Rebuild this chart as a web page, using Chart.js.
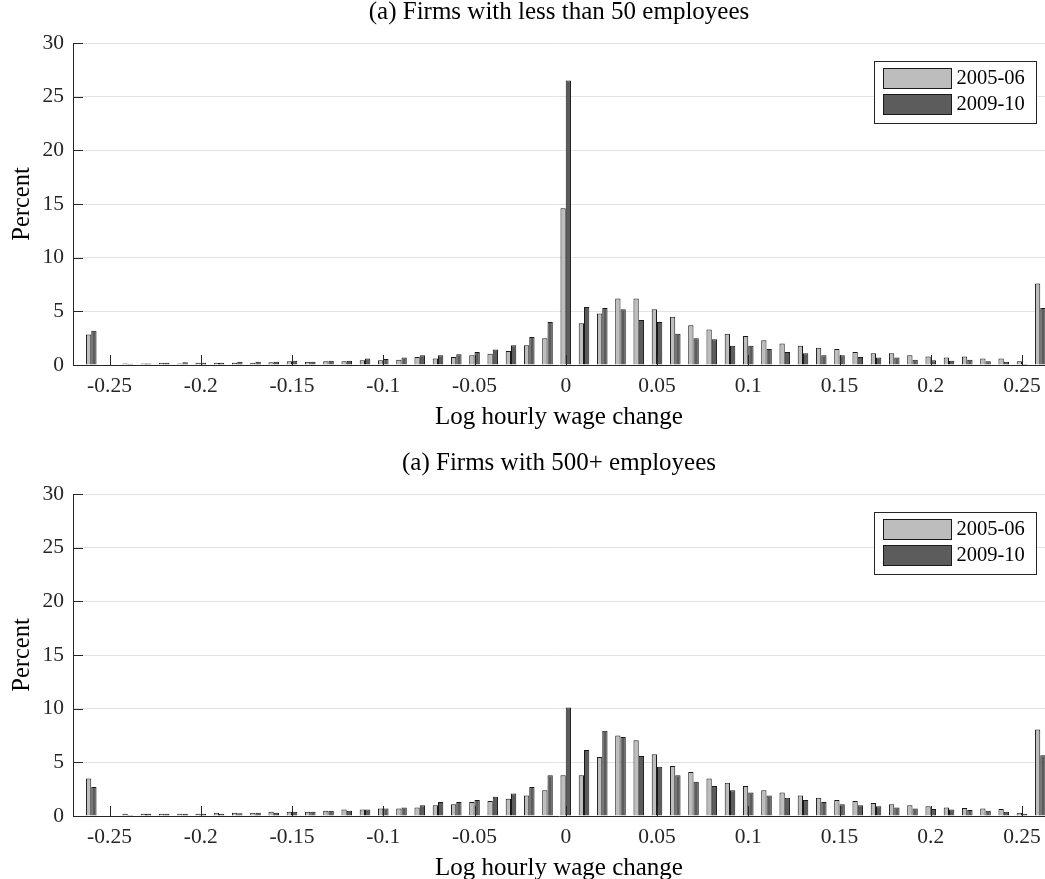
<!DOCTYPE html>
<html>
<head>
<meta charset="utf-8">
<script src="https://cdn.jsdelivr.net/npm/chart.js@4.4.1/dist/chart.umd.min.js"></script>
<style>
  html, body { margin: 0; padding: 0; background: #fff; overflow: hidden; }
  #wrap { position: relative; width: 1045px; height: 879px; }
  canvas { position: absolute; left: 0; }
  #c1 { top: 0; }
  #c2 { top: 451px; }
</style>
</head>
<body>
<div id="wrap">
  <canvas id="c1" width="1045" height="440"></canvas>
  <canvas id="c2" width="1045" height="440"></canvas>
</div>
<script>
// ---- data ----
const bins = [-0.26,-0.25,-0.24,-0.23,-0.22,-0.21,-0.2,-0.19,-0.18,-0.17,-0.16,-0.15,-0.14,-0.13,-0.12,-0.11,-0.1,-0.09,-0.08,-0.07,-0.06,-0.05,-0.04,-0.03,-0.02,-0.01,0,0.01,0.02,0.03,0.04,0.05,0.06,0.07,0.08,0.09,0.1,0.11,0.12,0.13,0.14,0.15,0.16,0.17,0.18,0.19,0.2,0.21,0.22,0.23,0.24,0.25,0.26];

const seriesLabels = ['2005-06', '2009-10'];

const small0506 = [2.85,0.05,0.15,0.15,0.2,0.15,0.2,0.2,0.2,0.2,0.25,0.35,0.3,0.35,0.35,0.45,0.45,0.5,0.75,0.6,0.75,0.9,1.05,1.3,1.85,2.5,14.6,3.9,4.8,6.2,6.2,5.2,4.5,3.7,3.3,2.9,2.7,2.3,2.0,1.8,1.6,1.5,1.2,1.1,1.1,0.9,0.8,0.7,0.8,0.6,0.6,0.35,7.6];
const small0910 = [3.2,0.05,0.12,0.15,0.2,0.25,0.2,0.2,0.3,0.3,0.3,0.4,0.3,0.4,0.4,0.6,0.55,0.7,0.9,0.9,1.0,1.2,1.45,1.85,2.6,4.0,26.5,5.4,5.3,5.2,4.2,4.0,2.9,2.5,2.4,1.8,1.8,1.5,1.2,1.1,0.9,0.9,0.75,0.7,0.7,0.5,0.45,0.4,0.5,0.35,0.3,0.1,5.3];

const large0506 = [3.5,0.05,0.2,0.2,0.2,0.2,0.2,0.3,0.3,0.3,0.4,0.4,0.4,0.5,0.6,0.6,0.7,0.7,0.8,1.0,1.1,1.3,1.4,1.6,1.9,2.4,3.8,3.8,5.5,7.5,7.05,5.75,4.65,4.1,3.5,3.1,2.8,2.4,2.2,1.9,1.7,1.5,1.4,1.2,1.1,1.0,0.9,0.8,0.75,0.7,0.65,0.3,8.05];
const large0910 = [2.7,0.05,0.1,0.2,0.2,0.2,0.2,0.2,0.25,0.3,0.3,0.4,0.4,0.5,0.5,0.6,0.7,0.8,1.0,1.3,1.3,1.5,1.8,2.1,2.7,3.8,10.1,6.15,7.95,7.35,5.6,4.6,3.8,3.2,2.8,2.4,2.2,1.9,1.7,1.5,1.3,1.1,1.0,0.9,0.8,0.7,0.65,0.6,0.55,0.5,0.4,0.2,5.65];

const xTickValues = [-0.25,-0.2,-0.15,-0.1,-0.05,0,0.05,0.1,0.15,0.2,0.25];
const xTickLabels = ['-0.25','-0.2','-0.15','-0.1','-0.05','0','0.05','0.1','0.15','0.2','0.25'];

const titles = ['(a) Firms with less than 50 employees', '(a) Firms with 500+ employees'];
const xTitle = 'Log hourly wage change';
const yTitle = 'Percent';

// ---- style ----
const SERIF = '"Liberation Serif", "Times New Roman", Times, serif';
const AX = '#262626';
const fills = ['#bdbdbd', '#5c5c5c'];

const inwardTicks = {
  id: 'inwardTicks',
  afterDatasetsDraw(chart) {
    const {ctx, chartArea, scales} = chart;
    ctx.save();
    ctx.strokeStyle = AX;
    ctx.lineWidth = 1;
    ctx.beginPath();
    scales.y.ticks.forEach(t => {
      const py = Math.round(scales.y.getPixelForValue(t.value)) + 0.5;
      ctx.moveTo(chartArea.left, py);
      ctx.lineTo(chartArea.left + 10, py);
    });
    scales.x.ticks.forEach(t => {
      const px = Math.round(scales.x.getPixelForValue(t.value)) + 0.5;
      ctx.moveTo(px, chartArea.bottom);
      ctx.lineTo(px, chartArea.bottom - 10);
    });
    ctx.stroke();
    ctx.restore();
  }
};

const boxLegend = {
  id: 'boxLegend',
  afterDraw(chart) {
    const {ctx, chartArea} = chart;
    const w = 162, h = 62;
    const left = Math.round(chartArea.right - 9 - w) + 0.5;
    const top = Math.round(chartArea.top + 18) + 0.5;
    ctx.save();
    ctx.fillStyle = '#fff';
    ctx.fillRect(left, top, w, h);
    ctx.strokeStyle = AX;
    ctx.lineWidth = 1;
    ctx.strokeRect(left, top, w, h);
    ctx.font = '20.5px ' + SERIF;
    ctx.textBaseline = 'middle';
    ctx.textAlign = 'left';
    chart.data.datasets.forEach((ds, i) => {
      const sy = top + 7 + i * 26;
      ctx.fillStyle = ds.backgroundColor;
      ctx.fillRect(left + 9, sy, 68, 20);
      ctx.strokeStyle = '#1a1a1a';
      ctx.strokeRect(left + 9, sy, 68, 20);
      ctx.fillStyle = '#000';
      ctx.fillText(ds.label, left + 82, sy + 10.5);
    });
    ctx.restore();
  }
};

function makeChart(id, title, a, b) {
  return new Chart(document.getElementById(id), {
    type: 'bar',
    data: {
      labels: bins,
      datasets: [
        { label: seriesLabels[0], data: a, backgroundColor: fills[0], borderColor: '#1a1a1a', borderWidth: 1 },
        { label: seriesLabels[1], data: b, backgroundColor: fills[1], borderColor: '#1a1a1a', borderWidth: 1 }
      ]
    },
    options: {
      responsive: false,
      animation: false,
      devicePixelRatio: 1,
      layout: { padding: { left: 0, right: 0, top: 0, bottom: 0 } },
      datasets: { bar: { categoryPercentage: 0.58, barPercentage: 1.0 } },
      plugins: {
        legend: { display: false },
        tooltip: { enabled: false },
        title: {
          display: true,
          fullSize: false,
          text: title,
          color: '#000',
          font: { family: SERIF, size: 25, weight: 'normal', lineHeight: 1 },
          padding: { top: 0, bottom: 18 }
        }
      },
      scales: {
        x: {
          type: 'linear',
          offset: false,
          min: -0.27,
          max: 0.2626,
          afterBuildTicks: (s) => { s.ticks = xTickValues.map(v => ({ value: v })); },
          afterFit: (s) => { s.height = 75; s.paddingLeft = 0; s.paddingRight = 0; },
          grid: { display: false, drawTicks: false },
          border: { display: true, color: AX, width: 1 },
          ticks: {
            color: AX,
            padding: 8,
            maxRotation: 0,
            autoSkip: false,
            font: { family: SERIF, size: 21.5 },
            callback: (v, i) => xTickLabels[i]
          },
          title: {
            display: true,
            text: xTitle,
            color: '#000',
            font: { family: SERIF, size: 25, lineHeight: 1.2 },
            padding: { top: 0, bottom: 8 }
          }
        },
        y: {
          min: 0,
          max: 30,
          afterFit: (s) => { s.width = 73; },
          grid: { color: '#e3e3e3', drawTicks: false, lineWidth: 1 },
          border: { display: true, color: AX, width: 1 },
          ticks: {
            stepSize: 5,
            color: AX,
            padding: 9,
            font: { family: SERIF, size: 21.5 }
          },
          title: {
            display: true,
            text: yTitle,
            color: '#000',
            font: { family: SERIF, size: 24.5, lineHeight: 1.2 },
            padding: { top: 8, bottom: 0 }
          }
        }
      }
    },
    plugins: [inwardTicks, boxLegend]
  });
}

makeChart('c1', titles[0], small0506, small0910);
makeChart('c2', titles[1], large0506, large0910);
</script>
</body>
</html>
